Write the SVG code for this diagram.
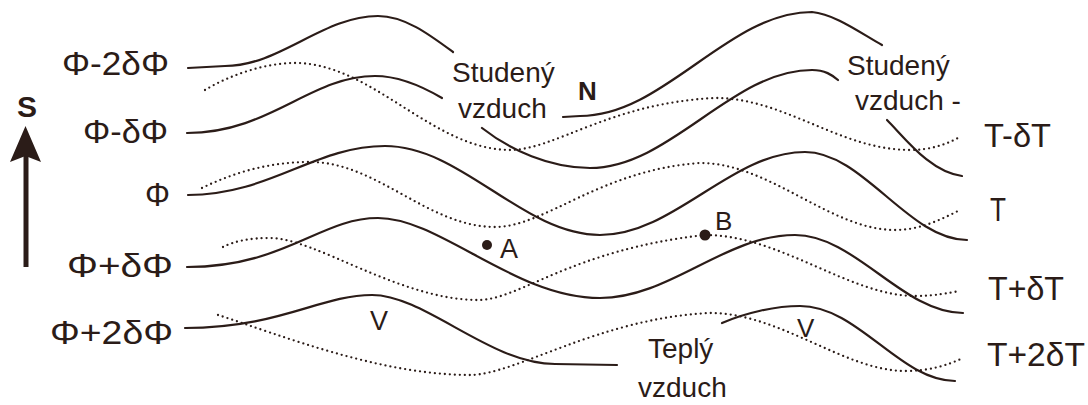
<svg xmlns="http://www.w3.org/2000/svg" width="1088" height="405" viewBox="0 0 1088 405">
<style>
.iso{fill:none;stroke:#2b1c18;stroke-width:2.2;stroke-linecap:round;stroke-linejoin:round}
.tmp{fill:none;stroke:#2b1c18;stroke-width:2.3;stroke-linecap:round;stroke-dasharray:0 5}
text{font-family:"Liberation Sans",Arial,sans-serif;fill:#2b1c18}
.lbl{font-size:34px}
.rl{font-size:33px}
.air{font-size:28px}
.b{font-weight:bold}
</style>
<rect width="1088" height="405" fill="#ffffff"/>
<g id="isohypses">
<path class="iso" d="M188,68 L225,66 C280,66 323,16 378,16 C405,16 430,35 453,52"/>
<path class="iso" d="M563,117 L580,116 C664,116 728,12 812,12 C835,14 862,34 882,45"/>
<path class="iso" d="M187,133 C270,133 310,76 375,76 C400,76 425,88 442,98"/>
<path class="iso" d="M482,128 C510,150 550,168 590,168 C670,168 732,70 812,70 C825,70 832,75 838,80"/>
<path class="iso" d="M887,120 C905,138 930,172 962,176"/>
<path class="iso" d="M188,195 C270,195 315,146 385,146 C462,146 523,235 600,235 C674,235 731,152 805,152 C863,152 909,240 967,240"/>
<path class="iso" d="M187,267 C285,267 320,218 378,218 C440,218 515,298 600,298 C670,298 725,235 795,235 C855,235 903,313 963,313"/>
<path class="iso" d="M185,328 C280,328 320,295 372,295 C425,295 490,364 555,364 L617,365"/>
<path class="iso" d="M722,323 C745,313 775,306 800,306 C858,306 900,381 955,381"/>
</g>
<g id="isotherms">
<path class="tmp" d="M205,90 C230,75 265,63 295,63 C372,63 433,150 510,150 C555,150 610,103 715,98 C785,98 840,150 910,150 C930,150 945,145 960,137"/>
<path class="tmp" d="M202,188 C235,172 270,162 310,162 C377,162 428,227 495,227 C545,227 600,170 700,163 C770,163 830,230 895,230 C920,230 940,220 960,210"/>
<path class="tmp" d="M223,247 C235,241 250,238 270,238 C315,238 400,300 478,300 C520,300 570,250 705,235 C780,235 850,296 915,296 C935,296 948,293 960,291"/>
<path class="tmp" d="M218,315 C280,335 380,375 470,375 C515,375 600,318 710,313 C780,313 845,371 905,371 C930,371 948,365 963,358"/>
</g>
<g id="north-arrow">
<line x1="26" y1="150" x2="26" y2="267" stroke="#2b1c18" stroke-width="5"/>
<polygon points="25.5,126 41,162 25.5,156 10,162" fill="#2b1c18"/>
<text class="b" x="17" y="117" font-size="30">S</text>
</g>
<g id="phi-labels">
<text class="lbl" x="62" y="75" textLength="107" lengthAdjust="spacingAndGlyphs">Φ-2δΦ</text>
<text class="lbl" x="83" y="143" textLength="85" lengthAdjust="spacingAndGlyphs">Φ-δΦ</text>
<text class="lbl" x="145" y="206" textLength="25" lengthAdjust="spacingAndGlyphs">Φ</text>
<text class="lbl" x="67" y="277" textLength="106" lengthAdjust="spacingAndGlyphs">Φ+δΦ</text>
<text class="lbl" x="50" y="344" textLength="123" lengthAdjust="spacingAndGlyphs">Φ+2δΦ</text>
</g>
<g id="t-labels">
<text class="rl" x="984" y="147" textLength="67" lengthAdjust="spacingAndGlyphs">T-δT</text>
<text class="rl" x="990" y="221" textLength="16" lengthAdjust="spacingAndGlyphs">T</text>
<text class="rl" x="988" y="300" textLength="76" lengthAdjust="spacingAndGlyphs">T+δT</text>
<text class="rl" x="987" y="366" textLength="98" lengthAdjust="spacingAndGlyphs">T+2δT</text>
</g>
<g id="cold-air-1">
<text class="air" x="452" y="82">Studený</text>
<text class="air" x="458" y="118">vzduch</text>
</g>
<g id="cold-air-2">
<text class="air" x="847" y="75" font-size="27">Studený</text>
<text class="air" x="855" y="110" font-size="27">vzduch -</text>
</g>
<g id="warm-air">
<text class="air" x="648" y="358">Teplý</text>
<text class="air" x="638" y="397">vzduch</text>
</g>
<g id="low-N"><text class="b" x="578" y="100" font-size="26">N</text></g>
<g id="high-V1"><text x="370" y="330" font-size="27">V</text></g>
<g id="high-V2"><text x="797" y="337" font-size="26">V</text></g>
<g id="point-A">
<circle cx="487" cy="245" r="5" fill="#2b1c18"/>
<text x="500" y="258" font-size="27">A</text>
</g>
<g id="point-B">
<circle cx="705" cy="235" r="5.5" fill="#2b1c18"/>
<text x="715" y="230" font-size="26">B</text>
</g>
</svg>
